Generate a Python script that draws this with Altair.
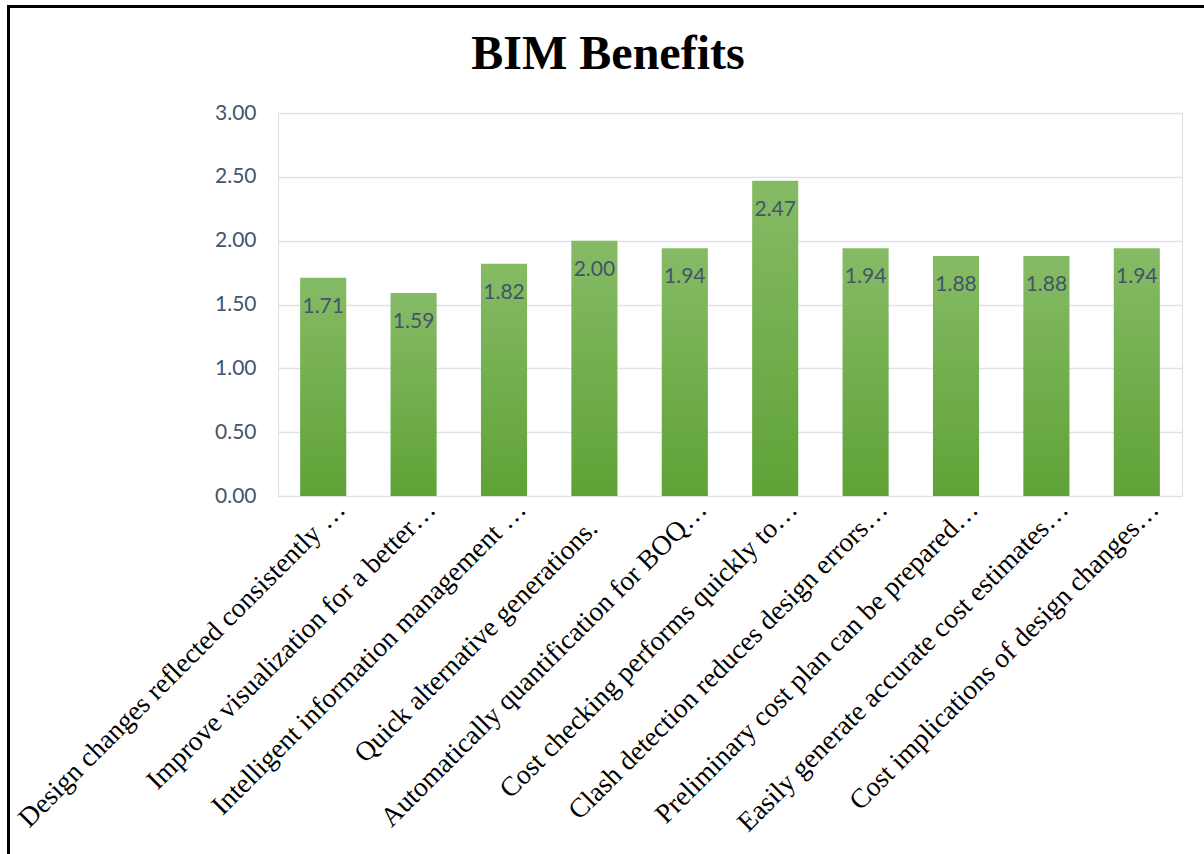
import altair as alt
import pandas as pd

categories = [
    "Design changes reflected consistently \u2026",
    "Improve visualization for a better\u2026",
    "Intelligent information management \u2026",
    "Quick alternative generations.",
    "Automatically quantification for BOQ\u2026",
    "Cost checking performs quickly to\u2026",
    "Clash detection reduces design errors\u2026",
    "Preliminary cost plan can be prepared\u2026",
    "Easily generate accurate cost estimates\u2026",
    "Cost implications of design changes\u2026",
]
values = [1.71, 1.59, 1.82, 2.00, 1.94, 2.47, 1.94, 1.88, 1.88, 1.94]
y_ticks = [0, 0.5, 1.0, 1.5, 2.0, 2.5, 3.0]

df = pd.DataFrame({"benefit": categories, "score": values})

W, H = 904, 383

full_label_test = "datum.value === 'Quick alternative generations.'"

x_enc = alt.X(
    "benefit:N",
    sort=categories,
    title=None,
    scale=alt.Scale(paddingInner=0.49, paddingOuter=0.245),
    axis=alt.Axis(
        labelAngle=-45,
        labelAlign="right",
        labelBaseline="middle",
        labelFont="Liberation Serif",
        labelFontSize=27.5,
        labelColor="#000000",
        labelLimit=0,
        labelPadding={"condition": {"test": full_label_test, "value": 28}, "value": 9},
        labelOffset={"condition": {"test": full_label_test, "value": -1}, "value": 18},
        ticks=False,
        domain=False,
        grid=False,
    ),
)
y_enc = alt.Y(
    "score:Q",
    title=None,
    scale=alt.Scale(domain=[0, 3], nice=False),
    axis=alt.Axis(
        values=y_ticks,
        format=".2f",
        labelFont="Lato",
        labelFontSize=21,
        labelColor="#44546A",
        labelPadding=22,
        ticks=False,
        domain=False,
        grid=True,
        gridColor="#DDE2E8",
        gridWidth=1.6,
    ),
)

grad = alt.Gradient(
    gradient="linear",
    stops=[
        alt.GradientStop(color="#86BB66", offset=0),
        alt.GradientStop(color="#5FA236", offset=1),
    ],
    x1=0, x2=0, y1=0, y2=1,
)

bars = alt.Chart(df).mark_bar(color=grad).encode(x=x_enc, y=y_enc)

labels = alt.Chart(df).mark_text(
    font="Lato", fontSize=21, color="#44546A", baseline="alphabetic", dy=35
).encode(x=alt.X("benefit:N", sort=categories), y="score:Q", text=alt.Text("score:Q", format=".2f"))

one = alt.Data(values=[{"k": 1}])
frame_top = alt.Chart(one).mark_rule(color="#000000", strokeWidth=3).encode(
    x=alt.value(-270), x2=alt.value(W + 40), y=alt.value(-106.5)
)
frame_left = alt.Chart(one).mark_rule(color="#000000", strokeWidth=3).encode(
    x=alt.value(-269.5), y=alt.value(-108), y2=alt.value(H + 400)
)

chart = (
    alt.layer(bars, labels, frame_top, frame_left)
    .properties(
        width=W,
        height=H,
        autosize=alt.AutoSizeParams(type="none"),
        padding={"left": 278, "top": 113, "right": 22, "bottom": 358},
        title=alt.TitleParams(
            "BIM Benefits",
            font="Liberation Serif",
            fontSize=48,
            fontWeight="bold",
            color="#000000",
            anchor="middle",
            dx=-122,
            baseline="alphabetic",
            offset=-113,
        ),
    )
    .configure_view(stroke=None)
    .configure(background="#FFFFFF")
)

chart.save("out.html", embed_options={"renderer": "svg", "actions": False})
